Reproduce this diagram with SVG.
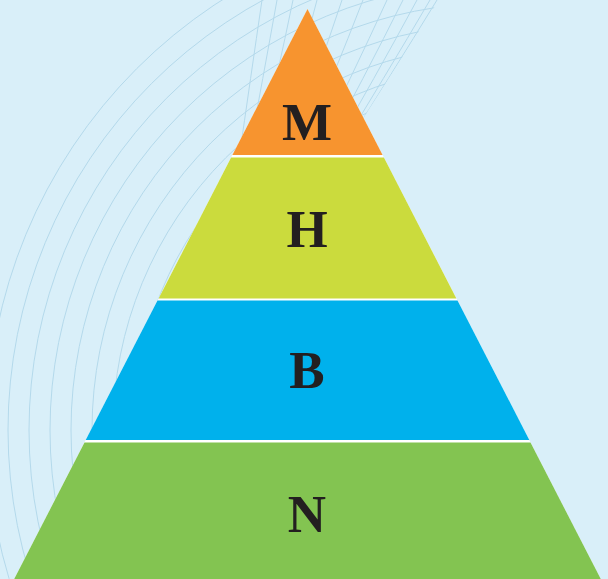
<svg xmlns="http://www.w3.org/2000/svg" width="608" height="579" viewBox="0 0 608 579">
  <style>
    .bg-line { fill: none; stroke: #b4d9eb; stroke-width: 1; }
    .label { font-family: "Liberation Serif", "DejaVu Serif", serif; font-weight: bold; font-size: 53px; fill: #231f20; text-anchor: middle; }
  </style>
  <defs>
    <clipPath id="pattern-clip">
      <path d="M0 0 H439 L211 356 L211 579 H0 Z"/>
    </clipPath>
  </defs>
  <rect id="background" x="0" y="0" width="608" height="579" fill="#d9eff9"/>
  <g id="pattern" clip-path="url(#pattern-clip)">
    <g id="arcs">
      <circle class="bg-line" cx="498" cy="430" r="511"/>
      <circle class="bg-line" cx="498" cy="430" r="490"/>
      <circle class="bg-line" cx="498" cy="430" r="469"/>
      <circle class="bg-line" cx="498" cy="430" r="448"/>
      <circle class="bg-line" cx="498" cy="430" r="427"/>
      <circle class="bg-line" cx="498" cy="430" r="406"/>
      <circle class="bg-line" cx="498" cy="430" r="385"/>
      <circle class="bg-line" cx="498" cy="430" r="364"/>
      <circle class="bg-line" cx="498" cy="430" r="343"/>
    </g>
    <g id="meridians">
      <path class="bg-line" d="M262 0 Q240 150 211 356"/>
      <path class="bg-line" d="M277 0 Q250 150 211 356"/>
      <path class="bg-line" d="M293 0 Q262 150 211 356"/>
      <path class="bg-line" d="M317 0 Q278 150 211 356"/>
      <path class="bg-line" d="M342 0 Q292 150 211 356"/>
      <path class="bg-line" d="M363 0 Q305 150 211 356"/>
      <path class="bg-line" d="M387 0 Q318 150 211 356"/>
      <path class="bg-line" d="M403 0 Q328 150 211 356"/>
      <path class="bg-line" d="M417 0 Q336 150 211 356"/>
      <path class="bg-line" d="M430 0 Q342 150 211 356"/>
      <path class="bg-line" d="M437 0 Q345 150 211 356"/>
    </g>
  </g>
  <polygon id="pyramid-base" points="307.5,9 600.8,579 14.2,579" fill="#ffffff"/>
  <g id="node-M">
    <polygon points="307.5,9 382.6,155 232.4,155" fill="#f7942f"/>
    <text class="label" x="307" y="140">M</text>
  </g>
  <g id="node-H">
    <polygon points="231.1,157.5 383.9,157.5 456.4,298.5 158.6,298.5" fill="#cbdb3d"/>
    <text class="label" x="307" y="247">H</text>
  </g>
  <g id="node-B">
    <polygon points="157.5,300.5 457.5,300.5 529.3,440 85.7,440" fill="#00b1ec"/>
    <text class="label" x="307" y="388">B</text>
  </g>
  <g id="node-N">
    <polygon points="84.5,442.5 530.5,442.5 600.8,579 14.2,579" fill="#83c451"/>
    <text class="label" x="307" y="532">N</text>
  </g>
  <g id="connectors"/>
</svg>
